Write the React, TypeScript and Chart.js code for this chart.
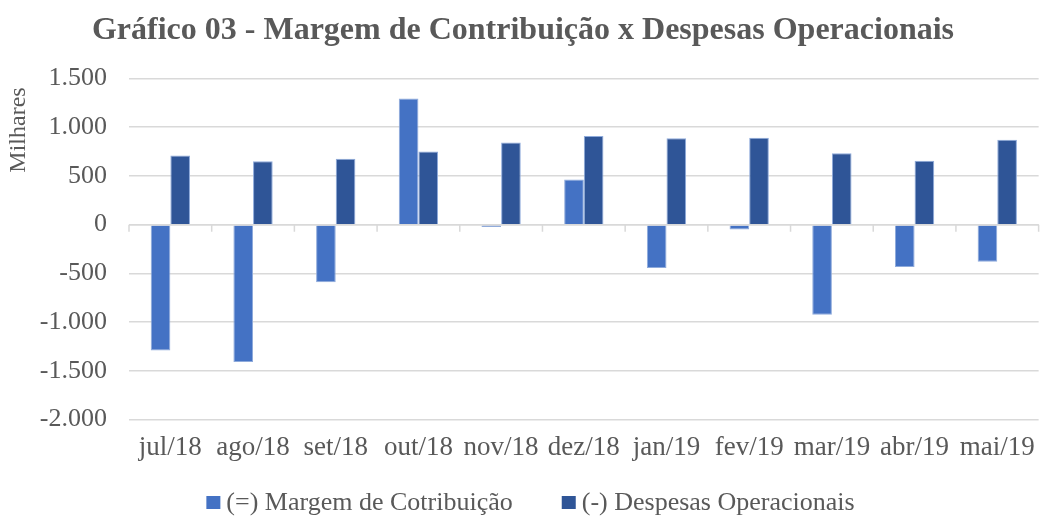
import React, { useEffect, useRef } from "react";
import { Chart, registerables } from "chart.js";

Chart.register(...registerables);

const categories = ["jul/18", "ago/18", "set/18", "out/18", "nov/18", "dez/18", "jan/19", "fev/19", "mar/19", "abr/19", "mai/19"];
const margemValues = [-1290, -1410, -590, 1295, -25, 463, -445, -50, -925, -435, -380];
const despesasValues = [710, 650, 675, 750, 843, 908, 887, 891, 733, 655, 870];
const seriesLabels = ["(=) Margem de Cotribuição", "(-) Despesas Operacionais"];
const seriesColors = ["#4472C4", "#2F5597"];
const titleText = "Gráfico 03 - Margem de Contribuição x Despesas Operacionais";
const yAxisTitle = "Milhares";

const FONT = "'Liberation Serif', 'DejaVu Serif', serif";
const TEXT_COLOR = "#595959";

const zeroTicks = {
  id: "zeroTicks",
  afterDatasetsDraw(chart: any) {
    const x = chart.scales.x;
    const y = chart.scales.y;
    const ctx = chart.ctx;
    const y0 = y.getPixelForValue(0);
    ctx.save();
    ctx.strokeStyle = "#d9d9d9";
    ctx.lineWidth = 1.5;
    ctx.beginPath();
    ctx.moveTo(x.left, y0);
    ctx.lineTo(x.right, y0);
    for (let i = 0; i <= categories.length; i++) {
      const px = x.getPixelForValue(i - 0.5);
      ctx.moveTo(px, y0);
      ctx.lineTo(px, y0 + 7);
    }
    ctx.stroke();
    ctx.restore();
  },
};

const customText = {
  id: "customText",
  afterDraw(chart: any) {
    const ctx = chart.ctx;
    ctx.save();
    // y axis title
    ctx.font = `24px ${FONT}`;
    ctx.fillStyle = TEXT_COLOR;
    ctx.textAlign = "center";
    ctx.textBaseline = "middle";
    ctx.translate(19, 130);
    ctx.rotate(-Math.PI / 2);
    ctx.fillText(yAxisTitle, 0, 0);
    ctx.setTransform(1, 0, 0, 1, 0, 0);
    // legend
    const box = 14;
    const gapBoxText = 6;
    const gapItems = 49;
    ctx.font = `26px ${FONT}`;
    const widths = seriesLabels.map((t) => ctx.measureText(t).width);
    const total = widths.reduce((a, w) => a + box + gapBoxText + w, 0) + gapItems * (seriesLabels.length - 1);
    let x = chart.width / 2 + 7 - total / 2;
    const cy = 503;
    ctx.textBaseline = "middle";
    ctx.textAlign = "left";
    seriesLabels.forEach((t, i) => {
      ctx.fillStyle = seriesColors[i];
      ctx.fillRect(x, cy - box / 2, box, box - 1);
      x += box + gapBoxText;
      ctx.fillStyle = TEXT_COLOR;
      ctx.fillText(t, x, cy);
      x += widths[i] + gapItems;
    });
    ctx.restore();
  },
};

export default function App() {
  const ref = useRef<HTMLCanvasElement>(null);
  useEffect(() => {
    if (!ref.current) return;
    const chart = new Chart(ref.current, {
      type: "bar",
      data: {
        labels: categories,
        datasets: [
          {
            label: seriesLabels[0],
            data: margemValues,
            backgroundColor: seriesColors[0],
            borderColor: "#8eaadb",
            borderWidth: 1,
            categoryPercentage: 0.475,
            barPercentage: 1,
          },
          {
            label: seriesLabels[1],
            data: despesasValues,
            backgroundColor: seriesColors[1],
            borderColor: "#8eaadb",
            borderWidth: 1,
            categoryPercentage: 0.475,
            barPercentage: 1,
          },
        ],
      },
      options: {
        animation: false,
        responsive: true,
        maintainAspectRatio: false,
        layout: { padding: { left: 4, right: 5, top: 8, bottom: 41 } },
        plugins: {
          title: {
            display: true,
            text: titleText,
            color: TEXT_COLOR,
            font: { family: FONT, size: 32, weight: "bold" },
            padding: { top: 4, bottom: 28 },
          },
          legend: { display: false },
          tooltip: { enabled: false },
        },
        scales: {
          x: {
            grid: { display: false, drawTicks: false },
            border: { display: false },
            ticks: { color: TEXT_COLOR, font: { family: FONT, size: 27 }, padding: 12, maxRotation: 0, autoSkip: false },
          },
          y: {
            min: -2000,
            max: 1500,
            afterFit: (scale: any) => {
              scale.width = 125;
            },
            ticks: {
              stepSize: 500,
              color: TEXT_COLOR,
              font: { family: FONT, size: 26 },
              padding: 22,
              callback: (v: any) => {
                const n = Number(v);
                const s = Math.abs(n).toString().replace(/\B(?=(\d{3})+(?!\d))/g, ".");
                return (n < 0 ? "-" : "") + s;
              },
            },
            grid: { color: "#d9d9d9", lineWidth: 1.5, drawTicks: false },
            border: { display: false },
          },
        },
      },
      plugins: [zeroTicks, customText],
    });
    return () => chart.destroy();
  }, []);
  return (
    <div style={{ position: "fixed", left: 0, top: 0, width: 1047, height: 517, background: "#fff" }}>
      <canvas ref={ref} />
    </div>
  );
}
